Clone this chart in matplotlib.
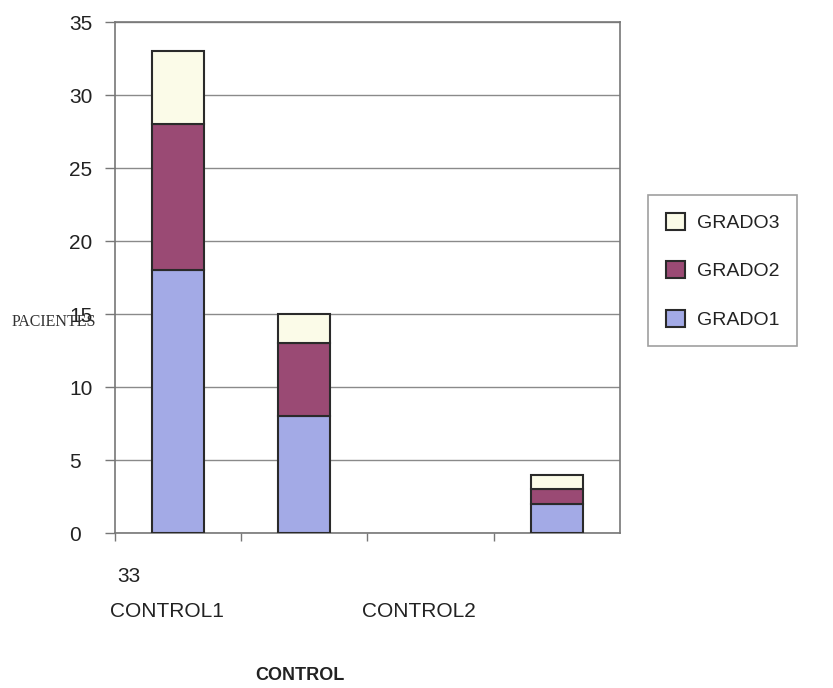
import numpy as np
import matplotlib.pyplot as plt

# data
categories = ["CONTROL1", "", "CONTROL2", ""]
grado1 = [18, 8, 0, 2]
grado2 = [10, 5, 0, 1]
grado3 = [5, 2, 0, 1]
series_names = ["GRADO1", "GRADO2", "GRADO3"]
colors = ["#a3aae6", "#9a4a74", "#fbfbe8"]
yticks = [0, 5, 10, 15, 20, 25, 30, 35]
extra_label = "33"

plt.rcParams['font.family'] = ['Liberation Sans', 'DejaVu Sans']

fig = plt.figure(figsize=(8.33, 6.88), dpi=100)
ax = fig.add_axes([0.138, 0.225, 0.606, 0.743])

x = np.arange(len(categories))
g1 = np.array(grado1)
g2 = np.array(grado2)
g3 = np.array(grado3)
w = 0.41


def stack(vals, bottom, color, name):
    bars = ax.bar(x, vals, w, bottom=bottom, color=color, label=name,
                  edgecolor="#2a2a2a", linewidth=1.5, zorder=3)
    # empty categories show no bar at all
    for b, v in zip(bars, vals):
        if v == 0:
            b.set_visible(False)
    return bars


b1 = stack(g1, 0, colors[0], series_names[0])
b2 = stack(g2, g1, colors[1], series_names[1])
b3 = stack(g3, g1 + g2, colors[2], series_names[2])

ax.set_xlim(-0.5, len(categories) - 0.5)
ax.set_ylim(0, 35)
ax.set_yticks(yticks)
ax.yaxis.grid(True, color="#8a8a8a", linewidth=1.0, zorder=0)
for s in ax.spines.values():
    s.set_color("#777777")
    s.set_linewidth(1.2)

ax.tick_params(axis="y", length=7, width=1, color="#777777", pad=26, labelsize=15, labelcolor="#222222")
for lab in ax.get_yticklabels():
    lab.set_horizontalalignment("left")

ax.set_xticks(np.arange(-0.5, len(categories) - 0.5, 1.0))
ax.set_xticklabels([])
ax.tick_params(axis="x", length=6, width=1, color="#777777", direction="out")

# category labels, shifted like in the original
for i, c in enumerate(categories):
    if c:
        ax.text(i - 0.09, -0.153, c, transform=ax.get_xaxis_transform(),
                ha="center", va="center", fontsize=15, color="#222222")
ax.text(-0.39, -0.085, extra_label, transform=ax.get_xaxis_transform(),
        ha="center", va="center", fontsize=15, color="#222222")

fig.text(300 / 833, 1 - 676 / 688, "CONTROL", ha="center", va="center",
         fontsize=13, fontweight="bold", color="#222222")
fig.text(54 / 833, 1 - 322 / 688, "PACIENTES", ha="center", va="center",
         fontsize=11.5, family="Liberation Serif", color="#333333")

leg = fig.legend(handles=[b3, b2, b1], labels=[series_names[2], series_names[1], series_names[0]],
                 loc="upper left", bbox_to_anchor=(648 / 833, 1 - 195 / 688),
                 frameon=True, fancybox=False, fontsize=14, handlelength=1.0,
                 handleheight=1.0, labelspacing=1.5, borderpad=0.9, handletextpad=0.6,
                 borderaxespad=0)
leg.get_frame().set_edgecolor("#888888")
leg.get_frame().set_linewidth(1.2)
for t in leg.get_texts():
    t.set_color("#222222")

fig.savefig("out.png", dpi=100)
